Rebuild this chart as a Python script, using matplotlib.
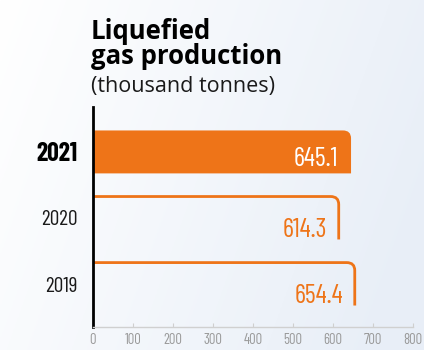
import matplotlib
matplotlib.use("Agg")
import matplotlib.pyplot as plt
from matplotlib.path import Path
from matplotlib.patches import PathPatch
import numpy as np

# liquefied gas output, thousand tonnes
years = ["2019", "2020", "2021"]
values = [654.4, 614.3, 645.1]
value_labels = ["654.4", "614.3", "645.1"]
highlight = "2021"
xticks = [0, 100, 200, 300, 400, 500, 600, 700, 800]

ORANGE = "#ee7418"
NUM_FONT = ["Barlow Condensed", "DejaVu Sans"]
W, H = 424, 350

fig = plt.figure(figsize=(W / 100, H / 100), dpi=100)

# soft white-to-blue background
bg = fig.add_axes([0, 0, 1, 1], zorder=-10)
gx, gy = np.meshgrid(np.linspace(0, 1, 200), np.linspace(0, 1, 200))
t = np.clip(0.85 * gx + 0.25 * gy, 0, 1)
c0 = np.array([1.0, 1.0, 1.0])
c1 = np.array([0.91, 0.935, 0.97])
img = c0[None, None, :] * (1 - t[..., None]) + c1[None, None, :] * t[..., None]
bg.imshow(img, aspect="auto", extent=[0, 1, 0, 1], origin="upper")
bg.axis("off")

ax = fig.add_axes([93 / W, 23 / H, 320 / W, 220 / H])
ax.patch.set_alpha(0)
ax.set_xlim(0, 800)
ax.set_ylim(-0.65, 2.68)

bar_h = 0.65
rx, ry = 20, 0.12   # corner radius in data units (~8px each way)


def bar_path(v, y, filled):
    top, bot = y + bar_h / 2, y - bar_h / 2
    verts = [(0, top), (v - rx, top), (v, top), (v, top - ry), (v, bot)]
    codes = [Path.MOVETO, Path.LINETO, Path.CURVE3, Path.CURVE3, Path.LINETO]
    if filled:
        verts = [(0, bot)] + verts + [(0, bot)]
        codes = [Path.MOVETO, Path.LINETO] + codes[1:] + [Path.CLOSEPOLY]
    return Path(verts, codes)


for i, (yr, v, lab) in enumerate(zip(years, values, value_labels)):
    filled = yr == highlight
    if filled:
        ax.add_patch(PathPatch(bar_path(v, i, True), facecolor=ORANGE,
                               edgecolor="none", zorder=2))
        ax.text(v - 32, i - 0.1, lab, color="white", fontsize=19,
                family=NUM_FONT, ha="right", va="center", zorder=3)
    else:
        ax.add_patch(PathPatch(bar_path(v, i, False), facecolor="none",
                               edgecolor=ORANGE, lw=2, zorder=2,
                               capstyle="butt"))
        ax.text(v - 30, i - 0.18, lab, color=ORANGE, fontsize=19,
                family=NUM_FONT, ha="right", va="center", zorder=3)

ax.set_yticks(range(len(years)))
ax.set_yticklabels(years, family=NUM_FONT, fontsize=15.5, color="#1a1a1a")
for tl in ax.get_yticklabels():
    if tl.get_text() == highlight:
        tl.set_fontweight("bold")
        tl.set_fontsize(18.5)
        tl.set_color("black")
ax.tick_params(axis="y", length=0, pad=11)

ax.set_xticks(xticks)
ax.set_xticklabels([str(x) for x in xticks], family=NUM_FONT, fontsize=10.5,
                   color="#9a9a9a")
ax.tick_params(axis="x", direction="in", length=3, color="#cfcfcf", pad=4)

for s in ["top", "right"]:
    ax.spines[s].set_visible(False)
ax.spines["left"].set_color("black")
ax.spines["left"].set_linewidth(2)
ax.spines["bottom"].set_color("#d0d0d0")
ax.spines["bottom"].set_linewidth(1)

fig.text(91 / W, 1 - 39 / H, "Liquefied", family="Open Sans", weight="bold",
         fontsize=18.5, va="baseline", ha="left")
fig.text(91 / W, 1 - 64 / H, "gas production", family="Open Sans",
         weight="bold", fontsize=18.5, va="baseline", ha="left")
fig.text(91 / W, 1 - 92 / H, "(thousand tonnes)", family="Open Sans",
         fontsize=15.5, va="baseline", ha="left", color="#1a1a1a")

fig.savefig("out.png", dpi=100)
